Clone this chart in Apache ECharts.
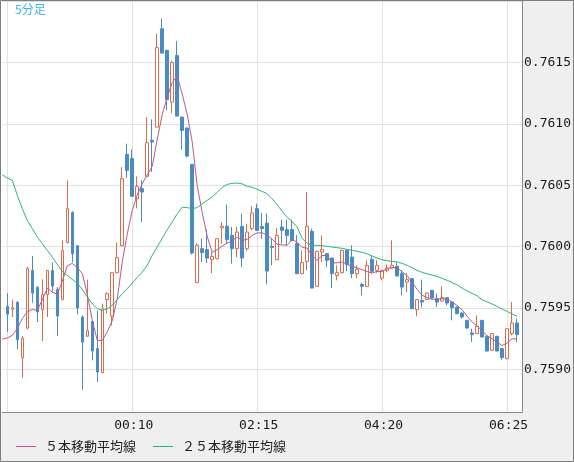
<!DOCTYPE html>
<html>
<head>
<meta charset="utf-8">
<script src="https://cdn.jsdelivr.net/npm/echarts@6/dist/echarts.min.js"></script>
<style>
html,body{margin:0;padding:0;background:#efefef;}
#chart{width:574px;height:462px;}
</style>
</head>
<body>
<div id="chart"></div>
<script>
// 5-minute bars, 22:00 .. 06:40 (x categories)
const categories = [
'22:00','22:05','22:10','22:15','22:20','22:25','22:30','22:35','22:40','22:45','22:50','22:55',
'23:00','23:05','23:10','23:15','23:20','23:25','23:30','23:35','23:40','23:45','23:50','23:55',
'00:00','00:05','00:10','00:15','00:20','00:25','00:30','00:35','00:40','00:45','00:50','00:55',
'01:00','01:05','01:10','01:15','01:20','01:25','01:30','01:35','01:40','01:45','01:50','01:55',
'02:00','02:05','02:10','02:15','02:20','02:25','02:30','02:35','02:40','02:45','02:50','02:55',
'03:00','03:05','03:10','03:15','03:20','03:25','03:30','03:35','03:40','03:45','03:50','03:55',
'04:00','04:05','04:10','04:15','04:20','04:25','04:30','04:35','04:40','04:45','04:50','04:55',
'05:00','05:05','05:10','05:15','05:20','05:25','05:30','05:35','05:40','05:45','05:50','05:55',
'06:00','06:05','06:10','06:15','06:20','06:25','06:30','06:35','06:40'
];
const gridTimes = ['22:05','00:10','02:15','04:20','06:25'];
const labelTimes = ['00:10','02:15','04:20','06:25'];

// Candles 22:05 .. 06:35
const openV = [
0.759513,0.759489,0.759546,0.759095,0.759336,0.759806,0.759668,0.759486,0.759608,0.759804,
0.759651,0.759568,0.760032,0.760278,0.760007,0.759426,0.759269,0.759391,0.759169,0.758973,
0.759568,0.759434,0.759787,0.760007,0.760751,0.760718,0.760388,0.760471,0.760572,0.760865,
0.760973,0.761774,0.761598,0.761177,0.761557,0.761054,0.760965,0.760669,0.759706,0.759983,
0.759975,0.759893,0.759901,0.760151,0.760164,0.760091,0.759983,0.760164,0.759983,0.760146,
0.760309,0.760164,0.760191,0.760002,0.759893,0.760159,0.760138,0.760138,0.760024,0.759779,
0.759879,0.760124,0.759676,0.759955,0.759942,0.759906,0.759765,0.759787,0.759969,0.759914,
0.759779,0.759692,0.759676,0.759896,0.759806,0.759743,0.759806,0.759825,0.759839,0.759779,
0.759711,0.759739,0.759486,0.759562,0.759568,0.759643,0.759576,0.759556,0.759584,0.759548,
0.759507,0.759458,0.759399,0.759296,0.759291,0.759399,0.759269,0.759155,0.759269,0.759169,
0.759087,0.759291,0.759377
];
const closeV = [
0.759450,0.759502,0.759242,0.759252,0.759822,0.759621,0.759467,0.759608,0.759804,0.759678,
0.759434,0.759967,0.760309,0.759941,0.759499,0.759222,0.759315,0.759149,0.758978,0.759494,
0.759616,0.759787,0.759910,0.760553,0.760620,0.760409,0.760490,0.760444,0.760846,0.760851,
0.761620,0.761576,0.761196,0.761498,0.761063,0.760946,0.760737,0.759947,0.760010,0.759950,
0.759906,0.759920,0.760064,0.760164,0.760056,0.759983,0.760118,0.759906,0.760118,0.760273,
0.760132,0.760146,0.759800,0.759993,0.760091,0.760132,0.760091,0.760050,0.759779,0.759869,
0.760164,0.759662,0.759961,0.759975,0.759888,0.759779,0.759787,0.759969,0.759853,0.759779,
0.759814,0.759676,0.759847,0.759798,0.759847,0.759806,0.759825,0.759847,0.759760,0.759670,
0.759730,0.759494,0.759568,0.759548,0.759621,0.759581,0.759548,0.759584,0.759540,0.759502,
0.759454,0.759426,0.759336,0.759283,0.759350,0.759263,0.759149,0.759291,0.759149,0.759095,
0.759331,0.759377,0.759283
];
const lowV = [
0.759304,0.759426,0.759163,0.758932,0.759326,0.759543,0.759385,0.759230,0.759426,0.759635,
0.759271,0.759562,0.760026,0.759874,0.759448,0.758835,0.759265,0.759073,0.758897,0.758969,
0.759454,0.759358,0.759783,0.760003,0.760561,0.760405,0.760311,0.760199,0.760568,0.760607,
0.760967,0.761573,0.761109,0.761087,0.761060,0.760791,0.760726,0.759936,0.759702,0.759874,
0.759866,0.759784,0.759897,0.760024,0.760024,0.759861,0.759914,0.759833,0.759963,0.760132,
0.760128,0.760064,0.759692,0.759847,0.759889,0.760024,0.760010,0.760042,0.759775,0.759775,
0.759806,0.759660,0.759672,0.759874,0.759833,0.759662,0.759725,0.759783,0.759798,0.759743,
0.759743,0.759603,0.759672,0.759779,0.759787,0.759725,0.759790,0.759821,0.759757,0.759603,
0.759629,0.759490,0.759432,0.759502,0.759564,0.759574,0.759507,0.759554,0.759521,0.759399,
0.759448,0.759413,0.759331,0.759222,0.759287,0.759261,0.759147,0.759151,0.759147,0.759079,
0.759083,0.759277,0.759222
];
const highV = [
0.759621,0.759568,0.759554,0.759269,0.759835,0.759923,0.759676,0.759733,0.759810,0.759869,
0.759670,0.760050,0.760539,0.760287,0.760010,0.759440,0.759730,0.759395,0.759480,0.759535,
0.759629,0.759790,0.760032,0.760647,0.760838,0.760791,0.760572,0.760539,0.761054,0.761036,
0.761734,0.761856,0.761602,0.761516,0.761673,0.761060,0.760971,0.760673,0.760028,0.760064,
0.760138,0.759955,0.760067,0.760199,0.760341,0.760159,0.760159,0.760268,0.760186,0.760330,
0.760349,0.760273,0.760268,0.760064,0.760151,0.760219,0.760219,0.760219,0.760091,0.759969,
0.760444,0.760146,0.759965,0.760091,0.759945,0.759910,0.759847,0.759973,0.759973,0.760010,
0.759847,0.759706,0.759888,0.759928,0.759888,0.759810,0.759855,0.760050,0.759871,0.759806,
0.759784,0.759741,0.759570,0.759730,0.759625,0.759647,0.759616,0.759676,0.759586,0.759552,
0.759511,0.759467,0.759403,0.759331,0.759440,0.759403,0.759277,0.759295,0.759273,0.759171,
0.759334,0.759548,0.759413
];

// Moving averages 22:00 .. 06:35
const ma5 = [
0.759246,
0.759255,0.759277,0.759331,0.759413,0.759468,0.759487,0.759480,0.759566,0.759660,0.759629,
0.759611,0.759717,0.759843,0.759863,0.759827,0.759782,0.759611,0.759399,0.759236,0.759236,
0.759305,0.759395,0.759574,0.759873,0.760102,0.760295,0.760421,0.760511,0.760584,0.760653,
0.760873,0.761076,0.761215,0.761337,0.761386,0.761243,0.761076,0.760853,0.760498,0.760278,
0.760083,0.759954,0.759973,0.760003,0.760028,0.760048,0.760077,0.760050,0.760059,0.760091,
0.760111,0.760112,0.760093,0.760060,0.760018,0.760014,0.760010,0.760059,0.760034,0.759993,
0.759987,0.759928,0.759888,0.759927,0.759927,0.759867,0.759867,0.759875,0.759855,0.759839,
0.759827,0.759812,0.759796,0.759785,0.759797,0.759796,0.759819,0.759829,0.759829,0.759794,
0.759764,0.759708,0.759651,0.759603,0.759585,0.759570,0.759572,0.759576,0.759572,0.759549,
0.759520,0.759485,0.759433,0.759385,0.759353,0.759316,0.759273,0.759250,0.759222,0.759194,
0.759213,0.759249,0.759248
];
const ma25 = [
0.760584,
0.760558,0.760539,0.760417,0.760309,0.760213,0.760146,0.760077,0.760024,0.759969,0.759914,
0.759855,0.759798,0.759765,0.759733,0.759703,0.759651,0.759589,0.759535,0.759494,0.759480,
0.759494,0.759521,0.759568,0.759616,0.759657,0.759703,0.759747,0.759792,0.759847,0.759928,
0.759998,0.760067,0.760136,0.760201,0.760266,0.760321,0.760317,0.760309,0.760317,0.760348,
0.760376,0.760405,0.760441,0.760482,0.760506,0.760515,0.760517,0.760511,0.760490,0.760482,
0.760466,0.760449,0.760431,0.760388,0.760340,0.760287,0.760238,0.760205,0.760159,0.760067,
0.760026,0.760010,0.760010,0.760008,0.760002,0.759996,0.759991,0.759985,0.759977,0.759969,
0.759961,0.759953,0.759941,0.759923,0.759906,0.759892,0.759885,0.759879,0.759875,0.759863,
0.759847,0.759827,0.759806,0.759790,0.759778,0.759768,0.759757,0.759741,0.759725,0.759707,
0.759688,0.759662,0.759639,0.759619,0.759599,0.759566,0.759550,0.759532,0.759513,0.759491,
0.759472,0.759452,0.759432
];

const seriesNames = ['５本移動平均線', '２５本移動平均線'];

const candleData = categories.map(function (t, i) {
  const k = i - 1;
  if (k < 0 || k >= openV.length) return ['-', '-', '-', '-'];
  return [openV[k], closeV[k], lowV[k], highV[k]];
});
const ma5Data = ma5.concat(['-']);
const ma25Data = ma25.concat(['-']);

const chart = echarts.init(document.getElementById('chart'), null, {renderer: 'canvas'});
const monoFont = 'DejaVu Sans Mono';
const jpFont = '"Noto Sans CJK JP", "Noto Sans", sans-serif';

chart.setOption({
  animation: false,
  backgroundColor: '#efefef',
  title: {
    text: '5分足',
    left: 15,
    top: 3,
    padding: 0,
    textStyle: {color: '#3db3e9', fontSize: 12, fontWeight: 'normal', fontFamily: jpFont}
  },
  legend: {
    data: seriesNames,
    left: 16,
    top: 440,
    icon: 'rect',
    itemWidth: 20,
    itemHeight: 1,
    itemGap: 17,
    padding: 0,
    textStyle: {color: '#222', fontSize: 13, fontFamily: jpFont, padding: [0, 0, 0, 4]}
  },
  grid: {
    left: 2.3,
    right: 50.3,
    top: 1,
    bottom: 49.7,
    show: true,
    backgroundColor: '#ffffff',
    borderWidth: 0
  },
  xAxis: {
    type: 'category',
    data: categories,
    boundaryGap: false,
    axisLine: {show: true, lineStyle: {color: '#8a8a8a', width: 1}},
    axisTick: {show: false},
    axisLabel: {
      interval: function (idx, val) { return labelTimes.indexOf(val) >= 0; },
      margin: 7,
      color: '#1a1a1a',
      fontSize: 13,
      fontFamily: monoFont,
      padding: [0, 0, 0, 3]
    },
    splitLine: {
      show: true,
      interval: function (idx, val) { return gridTimes.indexOf(val) >= 0; },
      lineStyle: {color: '#e0e0e0', width: 1}
    }
  },
  yAxis: {
    type: 'value',
    position: 'right',
    min: 0.75865,
    max: 0.762,
    splitNumber: 5,
    axisLine: {show: true, lineStyle: {color: '#8a8a8a', width: 1}},
    axisTick: {show: false},
    axisLabel: {
      margin: 2,
      color: '#1a1a1a',
      fontSize: 13,
      fontFamily: monoFont,
      showMinLabel: false,
      showMaxLabel: false,
      formatter: function (v) { return v.toFixed(4); }
    },
    splitLine: {show: true, lineStyle: {color: '#e0e0e0', width: 1}}
  },
  series: [
    {
      type: 'candlestick',
      name: 'USDJPY',
      data: candleData,
      barWidth: 3,
      itemStyle: {
        color: '#ffffff',
        color0: '#4b8bc3',
        borderColor: '#dc6a4c',
        borderColor0: '#4b8bc3',
        borderWidth: 1
      }
    },
    {
      type: 'line',
      name: seriesNames[0],
      data: ma5Data,
      symbol: 'none',
      showSymbol: false,
      color: '#b75a8a',
      lineStyle: {color: '#b75a8a', width: 1}
    },
    {
      type: 'line',
      name: seriesNames[1],
      data: ma25Data,
      symbol: 'none',
      showSymbol: false,
      color: '#2db378',
      lineStyle: {color: '#2db378', width: 1}
    }
  ],
  graphic: [
    {
      type: 'rect',
      silent: true,
      z: -10,
      shape: {x: 0, y: 0, width: 4, height: 412},
      style: {fill: '#ffffff'}
    },
    {
      type: 'rect',
      silent: true,
      z: 100,
      shape: {x: 0.5, y: 0.5, width: 573, height: 461},
      style: {fill: 'none', stroke: '#7d7d7d', lineWidth: 1}
    }
  ]
});
</script>
</body>
</html>
